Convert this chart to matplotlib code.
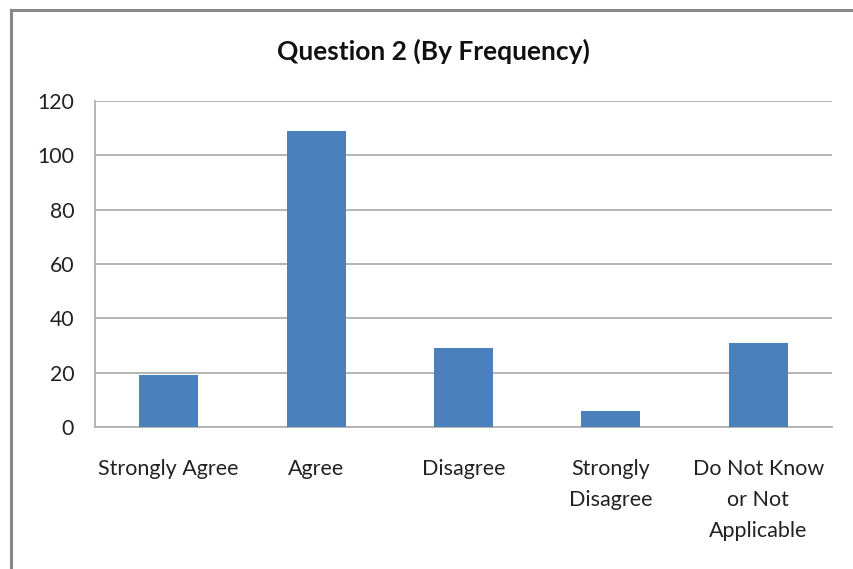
import matplotlib
matplotlib.use("Agg")
import matplotlib.pyplot as plt
import numpy as np

categories = ["Strongly Agree", "Agree", "Disagree", "Strongly\nDisagree",
              "Do Not Know\nor Not\nApplicable"]
counts = [19, 109, 29, 6, 31]
y_ticks = [0, 20, 40, 60, 80, 100, 120]

plt.rcParams["font.family"] = ["Lato", "DejaVu Sans"]

fig = plt.figure(figsize=(8.54, 5.69), dpi=100)
ax = fig.add_axes([0.1112, 0.2496, 0.863, 0.5729])

x = np.arange(len(categories))
ax.bar(x, counts, width=0.4, color="#4A81BD", zorder=3)

ax.set_xlim(-0.5, len(categories) - 0.5)
ax.set_ylim(0, 120)
ax.set_yticks(y_ticks)
ax.set_xticks(x)
ax.set_xticklabels(categories, fontsize=15.5, color="#222222", linespacing=1.69)
ax.tick_params(axis="y", length=0, pad=15, labelsize=15.3, labelcolor="#222222")
ax.tick_params(axis="x", length=0, pad=23)
ax.grid(True, axis="y", color="#b0b0b0", linewidth=1.3, zorder=0)

for side in ["top", "right"]:
    ax.spines[side].set_visible(False)
for side in ["left", "bottom"]:
    ax.spines[side].set_color("#b0b0b0")
    ax.spines[side].set_linewidth(1.3)

fig.text(0.508, 0.91, "Question 2 (By Frequency)", ha="center", va="center",
         fontsize=19, fontweight="bold", color="#111111")

# chart frame (left and top edges)
fig.add_artist(plt.Line2D([0.013, 0.013], [0, 0.982], color="#888888", linewidth=2.2))
fig.add_artist(plt.Line2D([0.013, 1.0], [0.982, 0.982], color="#888888", linewidth=2.2))

fig.savefig("out.png", dpi=100)
